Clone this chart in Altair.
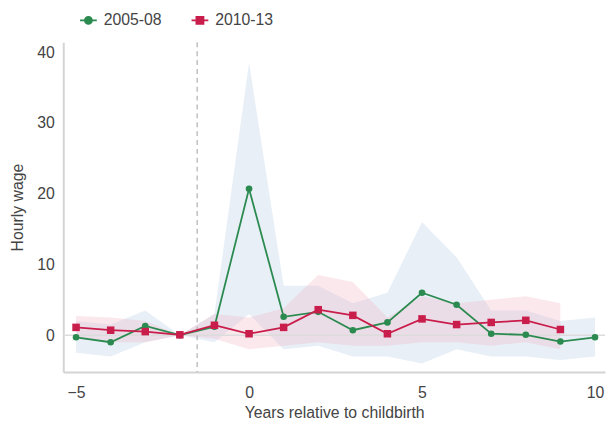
import altair as alt
import pandas as pd

years_a = [-5, -4, -3, -2, -1, 0, 1, 2, 3, 4, 5, 6, 7, 8, 9, 10]
wage_a = [-0.3, -1.0, 1.3, 0.0, 1.2, 20.7, 2.6, 3.3, 0.7, 1.8, 6.0, 4.3, 0.2, 0.05, -0.9, -0.3]
lo_a = [-2.5, -3.0, -1.0, 0.0, -1.0, 3.0, -2.0, -1.5, -3.0, -3.0, -4.0, -2.0, -3.0, -3.0, -3.5, -3.0]
hi_a = [2.0, 1.5, 3.5, 0.0, 3.0, 38.5, 7.0, 7.0, 4.5, 6.0, 16.0, 11.0, 3.5, 3.5, 2.0, 2.5]

years_b = [-5, -4, -3, -2, -1, 0, 1, 2, 3, 4, 5, 6, 7, 8, 9]
wage_b = [1.1, 0.7, 0.5, 0.05, 1.4, 0.2, 1.1, 3.6, 2.8, 0.2, 2.3, 1.5, 1.8, 2.1, 0.8]
lo_b = [-0.5, -1.0, -1.0, 0.0, -0.5, -2.0, -1.5, -1.0, -1.5, -1.5, -1.0, -1.0, -1.5, -1.0, -2.0]
hi_b = [2.7, 2.5, 2.0, 0.0, 3.0, 2.5, 3.8, 8.5, 7.5, 2.5, 5.5, 4.5, 5.0, 5.5, 4.5]

periods = ["2005-08", "2010-13"]
colors = ["#2b8a4f", "#c91d4b"]
band_colors = ["#c3d4ea", "#f3b3c2"]
event_line = [-1.5]

rows = []
for y, w, l, h in zip(years_a, wage_a, lo_a, hi_a):
    rows.append({"year": y, "wage": w, "lo": l, "hi": h, "period": periods[0]})
for y, w, l, h in zip(years_b, wage_b, lo_b, hi_b):
    rows.append({"year": y, "wage": w, "lo": l, "hi": h, "period": periods[1]})
df = pd.DataFrame(rows)

FONT = "Liberation Sans"
FS = 16

xs = alt.Scale(domain=[-5.37, 10.29], nice=False, zero=False)
ys = alt.Scale(domain=[-5.2, 41.4], nice=False, zero=False)
cscale = alt.Scale(domain=periods, range=colors)

sym_circle = "M-1,0L-0.42,0M0.42,0L1,0M0.42,0A0.42,0.42 0 1,1 -0.42,0A0.42,0.42 0 1,1 0.42,0Z"
sym_square = "M-1,0L-0.42,0M0.42,0L1,0M-0.42,-0.42L0.42,-0.42L0.42,0.42L-0.42,0.42Z"

LEG = alt.Legend(orient="none", legendX=16, legendY=-32, direction="horizontal",
                 symbolOpacity=1, symbolSize=289, symbolStrokeWidth=1.8,
                 labelFontSize=FS, labelColor="#444", labelFont=FONT,
                 columnPadding=26, labelOffset=6, title=None)

x_enc = alt.X("year:Q", scale=xs, title="Years relative to childbirth",
              axis=alt.Axis(values=[-5, 0, 5, 10], grid=False, tickSize=0,
                            labelPadding=13, titlePadding=4, domainColor="#d4d4d4",
                            domainWidth=2))
y_enc = alt.Y("wage:Q", scale=ys, title="Hourly wage",
              axis=alt.Axis(values=[0, 10, 20, 30, 40], grid=False, tickSize=0,
                            labelPadding=9, titlePadding=12, domainColor="#d4d4d4",
                            domainWidth=2))

band_a = alt.Chart(df[df.period == periods[0]]).mark_area(
    color=band_colors[0], opacity=0.38).encode(x=x_enc, y=alt.Y("lo:Q", scale=ys), y2="hi:Q")
band_b = alt.Chart(df[df.period == periods[1]]).mark_area(
    color=band_colors[1], opacity=0.3).encode(x="year:Q", y=alt.Y("lo:Q", scale=ys), y2="hi:Q")

zero = alt.Chart(pd.DataFrame({"z": [0]})).mark_rule(color="#dcdcdc", strokeWidth=1.5).encode(
    y=alt.Y("z:Q", scale=ys))

vline = alt.Chart(pd.DataFrame({"x": event_line})).mark_rule(
    color="#b0b0b0", strokeDash=[5, 4], strokeWidth=1.2).encode(x=alt.X("x:Q", scale=xs))

lines = alt.Chart(df).mark_line(strokeWidth=1.8).encode(
    x="year:Q", y=y_enc, color=alt.Color("period:N", scale=cscale, legend=LEG),
    detail="period:N")

pts_a = alt.Chart(df[df.period == periods[0]]).mark_point(
    filled=True, shape="circle", size=45, opacity=1).encode(
    x="year:Q", y="wage:Q", color=alt.Color("period:N", scale=cscale, legend=LEG))
pts_b = alt.Chart(df[df.period == periods[1]]).mark_point(
    filled=True, shape="square", size=58, opacity=1).encode(
    x="year:Q", y="wage:Q", color=alt.Color("period:N", scale=cscale, legend=LEG))

legend_layer = alt.Chart(df).mark_point(filled=True, opacity=0).encode(
    x="year:Q", y="wage:Q",
    color=alt.Color("period:N", scale=cscale, legend=LEG),
    stroke=alt.Stroke("period:N", scale=cscale, legend=LEG),
    shape=alt.Shape("period:N", scale=alt.Scale(domain=periods, range=[sym_circle, sym_square]),
                    legend=LEG),
)

chart = alt.layer(band_a, band_b, zero, vline, lines, pts_a, pts_b, legend_layer).properties(
    width=549, height=334,
    autosize=alt.AutoSizeParams(type="none"),
    padding={"left": 56, "top": 32, "right": 2, "bottom": 53},
).configure_view(stroke=None).configure_axis(
    labelFont=FONT, titleFont=FONT, labelFontSize=FS,
    titleFontSize=FS, titleFontWeight="normal", labelColor="#444", titleColor="#444"
)

chart.save("out.html", embed_options={"renderer": "svg", "actions": False})
